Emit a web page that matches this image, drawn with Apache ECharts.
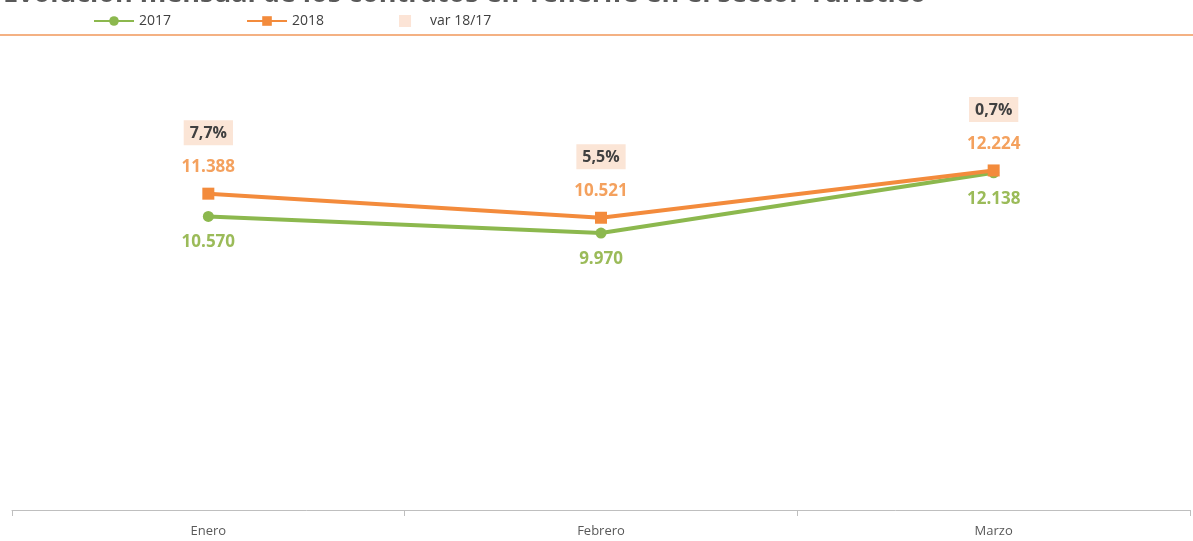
<!DOCTYPE html>
<html>
<head>
<meta charset="utf-8">
<script src="https://cdn.jsdelivr.net/npm/echarts@6/dist/echarts.min.js"></script>
<style>
  html, body { margin:0; padding:0; background:#fff; }
  #chart { width:1193px; height:541px; }
</style>
</head>
<body>
<div id="chart"></div>
<script>
  var months = ['Enero', 'Febrero', 'Marzo'];
  var values2017 = [10570, 9970, 12138];
  var values2018 = [11388, 10521, 12224];
  var varPct = ['7,7%', '5,5%', '0,7%'];

  function fmtNum(v){
  	return String(v).replace(/\B(?=(\d{3})+(?!\d))/g, '.');
  }

  var chart = echarts.init(document.getElementById('chart'));
  chart.setOption({
  	  animation: false,
  	  textStyle: { fontFamily: 'Open Sans' },
  	  title: {
  	      text: 'Evolución mensual de los contratos en Tenerife en el sector Turístico',
  	      left: -2,
  	      top: -24,
  	      textStyle: { fontSize: 27, fontWeight: 'bold', color: '#595959', fontFamily: 'Open Sans' }
  	  },
  	  legend: {
  	      top: 9,
  	      left: 88,
  	      itemGap: 75,
  	      itemWidth: 40,
  	      itemHeight: 12,
  	      textStyle: { fontSize: 14, color: '#404040' },
  	      data: [
  	          { name: '2017' },
  	          { name: '2018' },
  	          { name: 'var 18/17', icon: 'path://M0,0L10,0L10,10L0,10Z', itemStyle: { color: '#fce4d6' } }
  	      ]
  	  },
  	  graphic: [
  	      { type: 'line', shape: { x1: 0, y1: 35, x2: 1193, y2: 35 }, style: { stroke: '#f4b183', lineWidth: 2 } }
  	  ],
  	  grid: { left: 12, right: 3, top: 10, bottom: 31 },
  	  xAxis: {
  	      type: 'category',
  	      data: months,
  	      boundaryGap: true,
  	      axisLine: { lineStyle: { color: '#bfbfbf', width: 1 } },
  	      axisTick: { show: true, length: 6, lineStyle: { color: '#bfbfbf' } },
  	      axisLabel: { color: '#595959', fontSize: 13, margin: 15 }
  	  },
  	  yAxis: {
  	      type: 'value',
  	      min: 0,
  	      max: 18000,
  	      show: false,
  	      splitLine: { show: false }
  	  },
  	  series: [
  	      {
  	          name: '2017',
  	          type: 'line',
  	          data: values2017,
  	          symbol: 'circle',
  	          symbolSize: 11,
  	          lineStyle: { color: '#8cb84e', width: 4 },
  	          itemStyle: { color: '#8cb84e' },
  	          label: {
  	              show: true,
  	              position: 'bottom',
  	              distance: 12,
  	              formatter: function(p){ return fmtNum(p.value); },
  	              color: '#9bbb59',
  	              fontSize: 17,
  	              fontWeight: 'bold'
  	          }
  	      },
  	      {
  	          name: '2018',
  	          type: 'line',
  	          data: values2018,
  	          symbol: 'rect',
  	          symbolSize: 12,
  	          lineStyle: { color: '#f38b3c', width: 4 },
  	          itemStyle: { color: '#f38b3c' },
  	          label: {
  	              show: true,
  	              position: 'top',
  	              distance: 12,
  	              formatter: function(p){ return fmtNum(p.value); },
  	              color: '#f4a15e',
  	              fontSize: 17,
  	              fontWeight: 'bold'
  	          }
  	      },
  	      {
  	          // var 18/17: label boxes placed above the 2018 values
  	          name: 'var 18/17',
  	          type: 'line',
  	          data: values2018,
  	          symbol: 'rect',
  	          symbolSize: 1,
  	          itemStyle: { color: 'transparent' },
  	          lineStyle: { color: 'transparent', width: 0 },
  	          label: {
  	              show: true,
  	              position: 'top',
  	              distance: 48,
  	              formatter: function(p){ return varPct[p.dataIndex]; },
  	              color: '#404040',
  	              fontSize: 16,
  	              fontWeight: 'bold',
  	              backgroundColor: '#fbe5d6',
  	              padding: [5, 6, 4, 6]
  	          },
  	          z: 1
  	      }
  	  ]
  });
</script>
</body>
</html>
